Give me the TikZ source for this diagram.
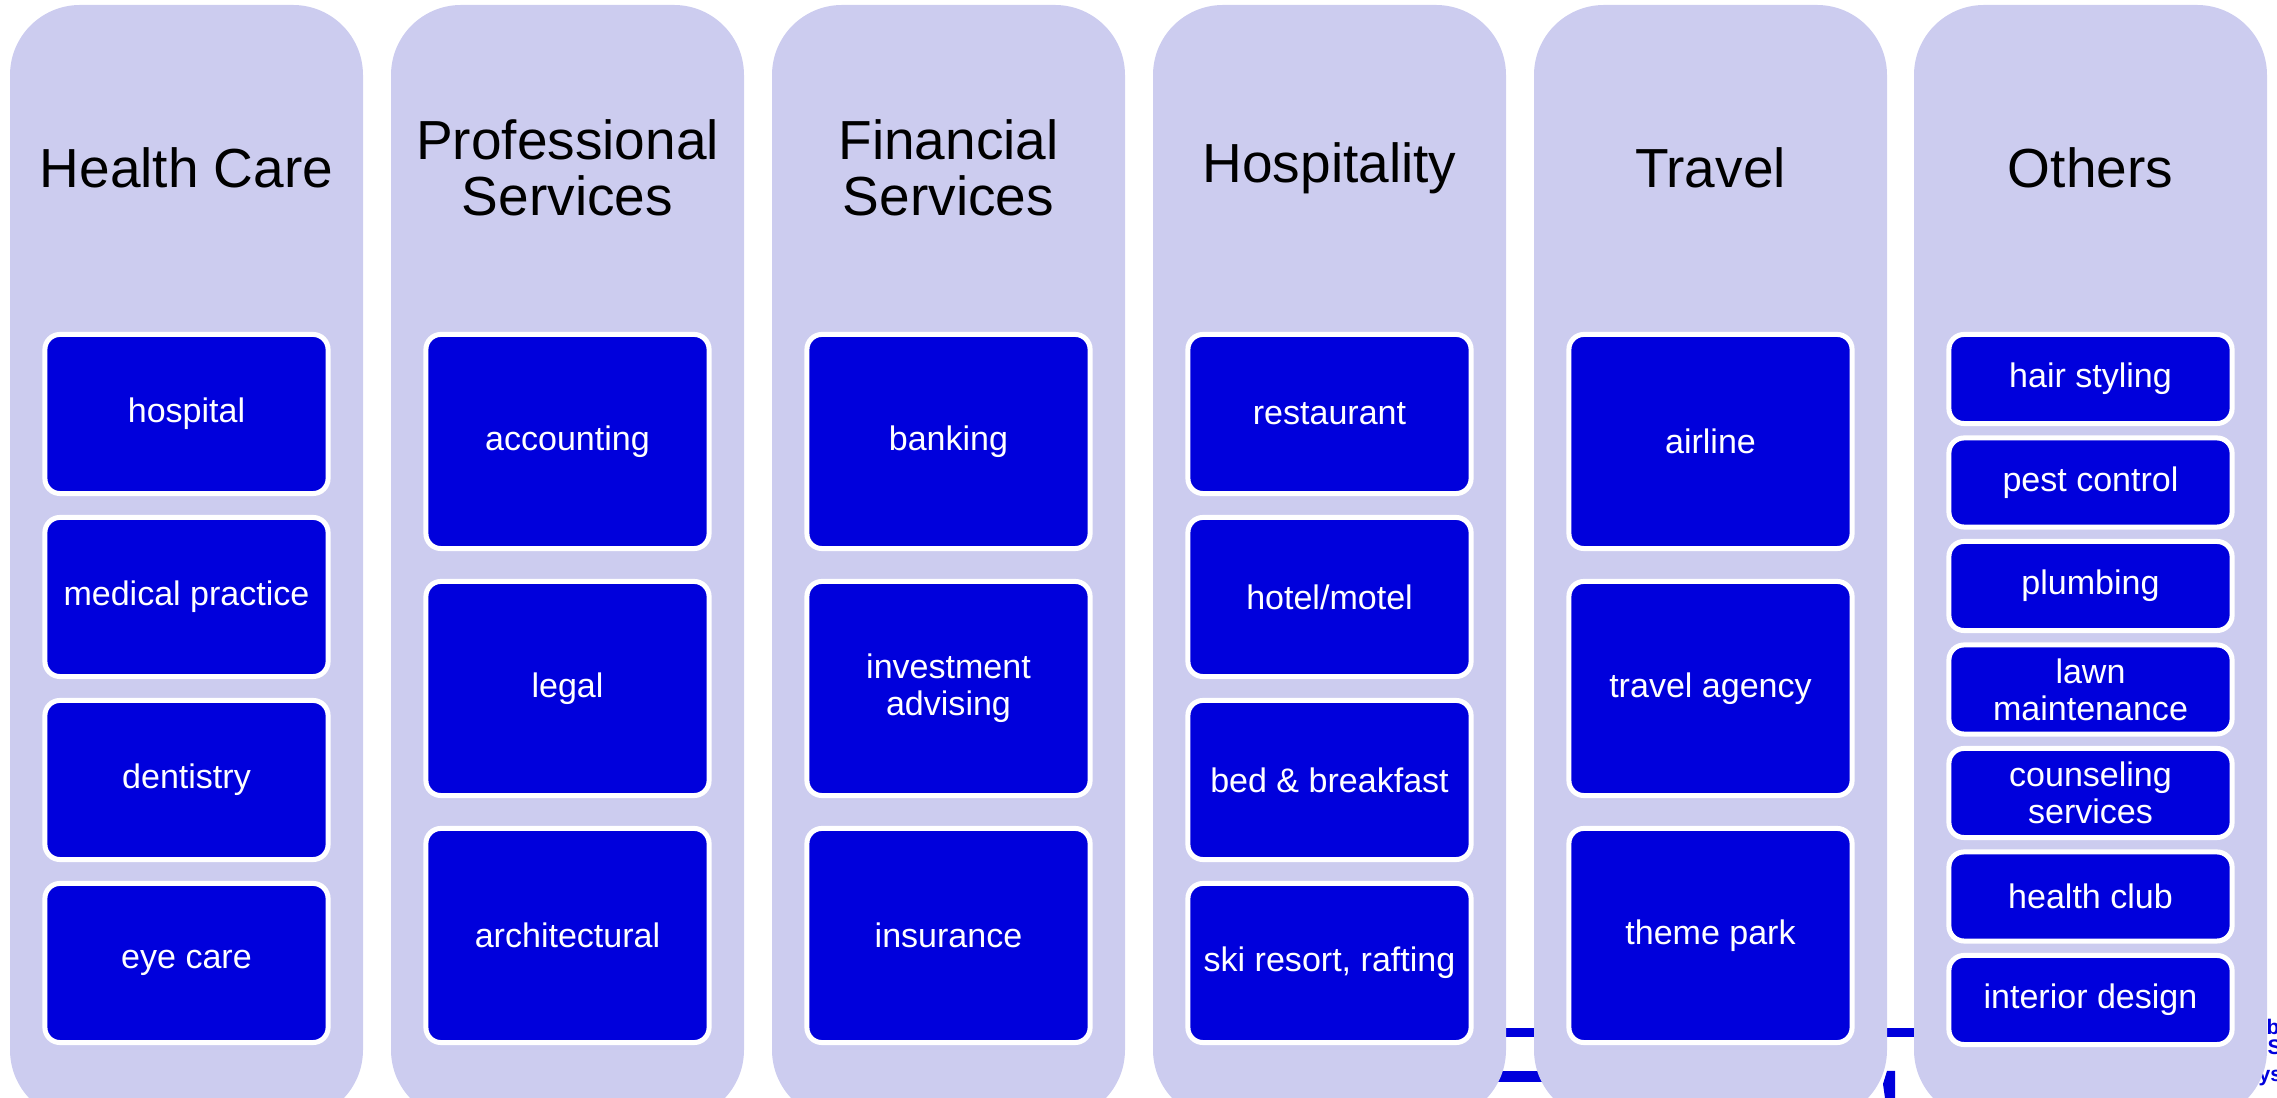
\documentclass[tikz,border=0pt]{standalone}
\usepackage{fontspec}
\setmainfont{Liberation Sans}
\usepackage{xcolor}
\definecolor{lavender}{RGB}{204,204,239}
\definecolor{boxblue}{RGB}{0,0,220}

\begin{document}
\begin{tikzpicture}[x=0.01cm,y=-0.01cm,
    lane/.style={fill=lavender,rounded corners=0.7cm},
    head/.style={align=center,inner sep=0pt,font=\fontsize{15.65}{15.9}\selectfont},
    item/.style={draw=white,line width=1.42pt,fill=boxblue,rounded corners=0.15cm,text=white,
        align=center,inner sep=0pt,minimum width=2.83cm,font=\fontsize{9.68}{10.6}\selectfont},
    fourbox/.style={item,minimum height=1.59cm},
    threebox/.style={item,minimum height=2.14cm},
    sevenbox/.style={item,minimum height=0.89cm},
    frag/.style={text=boxblue,inner sep=0pt,font=\bfseries\fontsize{6}{6}\selectfont}]
    \useasboundingbox (0,0) rectangle (2277,1098);
    \clip (0,0) rectangle (2277,1098);

    % bits of the slide behind
    \fill[boxblue] (1490,1028) rectangle (1930,1037);
    \fill[boxblue] (1480,1071) rectangle (1560,1082);
    \fill[boxblue] (1883,1084) -- (1887,1071) -- (1895,1071) -- (1895,1098) -- (1885,1098) -- cycle;
    \node[frag,anchor=base west] (fb) at (2266,1035) {b};
    \node[frag,anchor=base west] (fs) at (2267,1055) {S};
    \node[frag,anchor=base west] (fys) at (2258,1082) {ys};

    % lanes
    \fill[lane] (10,5) rectangle (363,1120);
    \fill[lane] (391,5) rectangle (744,1120);
    \fill[lane] (772,5) rectangle (1125,1120);
    \fill[lane] (1153,5) rectangle (1506,1120);
    \fill[lane] (1534,5) rectangle (1887,1120);
    \fill[lane] (1914,5) rectangle (2267,1120);

    \node[head] (health) at (186.5,168) {Health Care};
    \node[head] (prof) at (567.5,168) {Professional\\Services};
    \node[head] (fin) at (948.5,168) {Financial\\Services};
    \node[head] (hosp) at (1329.5,168) {Hospitality};
    \node[head] (travel) at (1710.5,168) {Travel};
    \node[head] (others) at (2090.5,168) {Others};

    \node[fourbox] (hospital) at (186.5,414) {hospital};
    \node[fourbox] (medical) at (186.5,597) {medical practice};
    \node[fourbox] (dentistry) at (186.5,780) {dentistry};
    \node[fourbox] (eyecare) at (186.5,963) {eye care};

    \node[threebox] (accounting) at (567.5,441.5) {accounting};
    \node[threebox] (legal) at (567.5,688.5) {legal};
    \node[threebox] (architectural) at (567.5,935.5) {architectural};

    \node[threebox] (banking) at (948.5,441.5) {banking};
    \node[threebox] (investment) at (948.5,688.5) {investment\\advising};
    \node[threebox] (insurance) at (948.5,935.5) {insurance};

    \node[fourbox] (restaurant) at (1329.5,414) {restaurant};
    \node[fourbox] (hotel) at (1329.5,597) {hotel/motel};
    \node[fourbox] (bnb) at (1329.5,780) {bed \& breakfast};
    \node[fourbox] (ski) at (1329.5,963) {ski resort, rafting};

    \node[threebox] (airline) at (1710.5,441.5) {airline};
    \node[threebox] (agency) at (1710.5,688.5) {travel agency};
    \node[threebox] (themepark) at (1710.5,935.5) {theme park};

    \node[sevenbox] (hair) at (2090.5,379) {hair styling};
    \node[sevenbox] (pest) at (2090.5,482.5) {pest control};
    \node[sevenbox] (plumbing) at (2090.5,586) {plumbing};
    \node[sevenbox] (lawn) at (2090.5,689.5) {lawn\\maintenance};
    \node[sevenbox] (counseling) at (2090.5,793) {counseling\\services};
    \node[sevenbox] (club) at (2090.5,896.5) {health club};
    \node[sevenbox] (interior) at (2090.5,1000) {interior design};
\end{tikzpicture}
\end{document}
